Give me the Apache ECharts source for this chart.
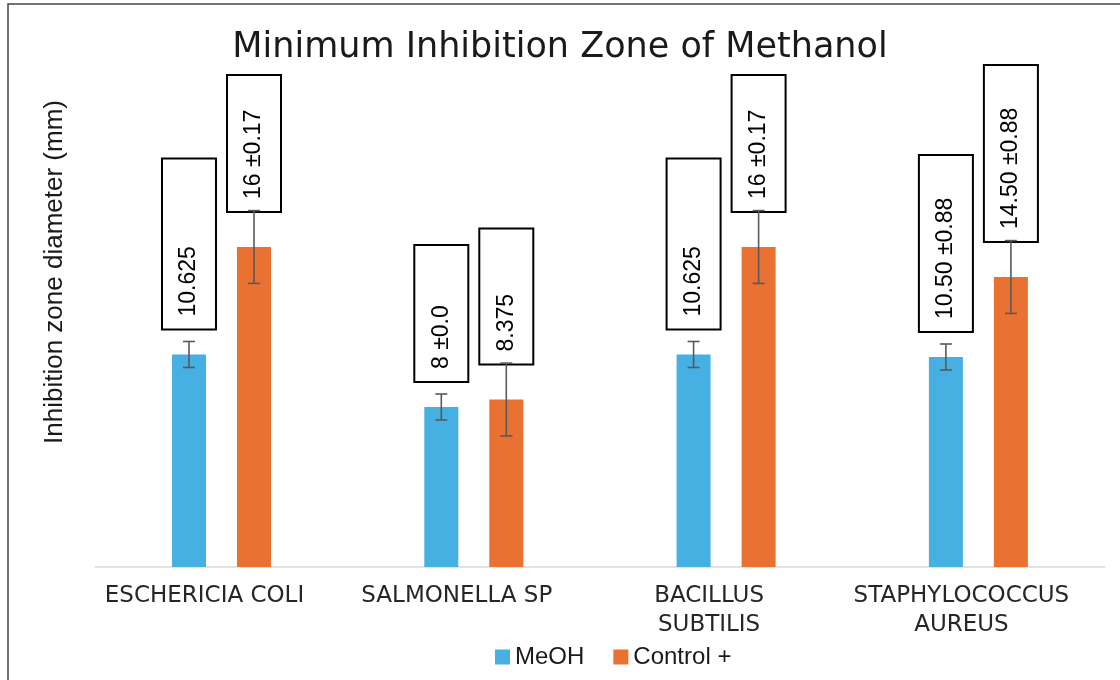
<!DOCTYPE html>
<html>
<head>
<meta charset="utf-8">
<script src="https://cdn.jsdelivr.net/npm/echarts@6/dist/echarts.min.js"></script>
<style>html,body{margin:0;padding:0;background:#fff;}#chart{width:1120px;height:680px;}</style>
</head>
<body>
<div id="chart"></div>
<script>
// ---- data ----
const categories = ['ESCHERICIA COLI', 'SALMONELLA SP', 'BACILLUS\nSUBTILIS', 'STAPHYLOCOCCUS\nAUREUS'];
const seriesNames = ['MeOH', 'Control +'];
const meohValues = [10.625, 8, 10.625, 10.5];
const controlValues = [16, 8.375, 16, 14.5];
const meohErrors = [0.65, 0.65, 0.65, 0.65];
const controlErrors = [1.82, 1.82, 1.82, 1.82];
const meohLabels = ['10.625', '8 \u00B10.0', '10.625', '10.50 \u00B10.88'];
const controlLabels = ['16 \u00B10.17', '8.375', '16 \u00B10.17', '14.50 \u00B10.88'];

// ---- label box lengths (styling) ----
const meohBoxLen = [169, 135, 169, 175];
const controlBoxLen = [135, 134, 135, 175];

const BAR_W = 34, BAR_GAP = 31;
const colors = ['#45B0E1', '#E97132'];

function barData(values, boxLen) {
  return values.map((v, i) => ({ value: v, label: { width: boxLen[i] - 24 } }));
}
function labelCfg(texts, distance) {
  return {
    show: true, position: 'top', distance: distance, rotate: 90,
    align: 'left', verticalAlign: 'middle',
    formatter: p => texts[p.dataIndex],
    fontFamily: 'Liberation Sans', fontSize: 23, lineHeight: 24, color: '#000',
    backgroundColor: '#fff', borderColor: '#000', borderWidth: 2,
    padding: [14, 12, 14, 12]
  };
}
function errSeries(values, errs, offset) {
  return {
    type: 'custom', z: 3, silent: true,
    data: values.map((v, i) => [i, v, errs[i]]),
    encode: { x: 0, y: 1 },
    renderItem: function (params, api) {
      const i = api.value(0), v = api.value(1), e = api.value(2);
      const hi = api.coord([i, v + e]);
      const lo = api.coord([i, v - e]);
      const x = hi[0] + offset, cap = 6;
      const st = { stroke: '#595959', lineWidth: 1.6 };
      return { type: 'group', children: [
        { type: 'line', shape: { x1: x, y1: hi[1], x2: x, y2: lo[1] }, style: st },
        { type: 'line', shape: { x1: x - cap, y1: hi[1], x2: x + cap, y2: hi[1] }, style: st },
        { type: 'line', shape: { x1: x - cap, y1: lo[1], x2: x + cap, y2: lo[1] }, style: st }
      ]};
    }
  };
}

const chart = echarts.init(document.getElementById('chart'), null, { renderer: 'canvas' });
const half = (BAR_W + BAR_GAP) / 2;
chart.setOption({
  animation: false,
  backgroundColor: '#fff',
  title: {
    text: 'Minimum Inhibition Zone of Methanol',
    left: 'center', top: 30, padding: [0, 0, 0, 17],
    textStyle: { fontFamily: 'DejaVu Sans', fontSize: 35, fontWeight: 'normal', color: '#1a1a1a' }
  },
  legend: {
    data: seriesNames, left: 490, top: 640,
    itemWidth: 15, itemHeight: 15, itemGap: 29, icon: 'rect',
    textStyle: { fontFamily: 'Liberation Sans', fontSize: 24, color: '#1a1a1a' }
  },
  grid: { left: 95.35, right: 15.45, top: 87, bottom: 113 },
  xAxis: {
    type: 'category', data: categories,
    axisTick: { show: false },
    axisLine: { lineStyle: { color: '#d9d9d9', width: 1.5 } },
    axisLabel: {
      interval: 0, margin: 15, fontFamily: 'DejaVu Sans', fontSize: 23, lineHeight: 29,
      color: '#262626', padding: [0, 34, 0, 0]
    }
  },
  yAxis: { type: 'value', min: 0, max: 24, show: false, splitLine: { show: false } },
  graphic: [
    { type: 'rect', shape: { x: 8, y: 4, width: 1400, height: 900 }, style: { fill: 'none', stroke: '#444', lineWidth: 1.5 }, silent: true },
    { type: 'text', x: 55, y: 272, rotation: Math.PI / 2, silent: true,
      style: { text: 'Inhibition zone diameter (mm)', fontFamily: 'Liberation Sans', fontSize: 26, fill: '#1a1a1a', align: 'center', verticalAlign: 'middle' } }
  ],
  series: [
    { name: seriesNames[0], type: 'bar', barWidth: BAR_W, barGap: (BAR_GAP / BAR_W * 100) + '%',
      itemStyle: { color: colors[0] }, data: barData(meohValues, meohBoxLen),
      label: labelCfg(meohLabels, 26), emphasis: { disabled: true } },
    { name: seriesNames[1], type: 'bar', barWidth: BAR_W,
      itemStyle: { color: colors[1] }, data: barData(controlValues, controlBoxLen),
      label: labelCfg(controlLabels, 36), emphasis: { disabled: true } },
    errSeries(meohValues, meohErrors, -half),
    errSeries(controlValues, controlErrors, half)
  ]
});
</script>
</body>
</html>
